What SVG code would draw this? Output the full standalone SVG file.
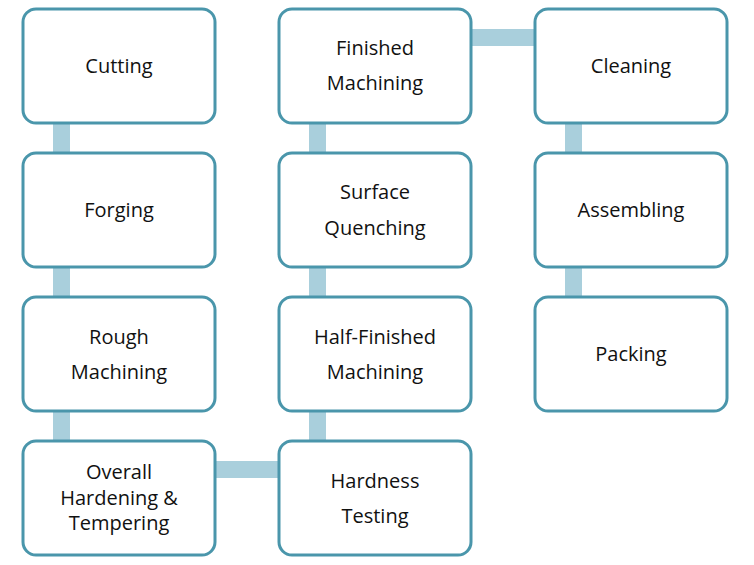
<svg xmlns="http://www.w3.org/2000/svg" width="754" height="565" viewBox="0 0 754 565">
<style>
.n rect{fill:#fff;stroke:#4a96ab;stroke-width:3}
.n text{font-family:"Open Sans","Liberation Sans",sans-serif;font-size:20px;fill:#111;text-anchor:middle}
.c{fill:#a9cfdc}
</style>
<rect width="754" height="565" fill="#fff"/>
<g id="connectors">
<rect class="c" x="53" y="120" width="17" height="36"/>
<rect class="c" x="53" y="264" width="17" height="36"/>
<rect class="c" x="53" y="408" width="17" height="36"/>
<rect class="c" x="212" y="461" width="70" height="17"/>
<rect class="c" x="309" y="408" width="17" height="36"/>
<rect class="c" x="309" y="264" width="17" height="36"/>
<rect class="c" x="309" y="120" width="17" height="36"/>
<rect class="c" x="468" y="29" width="70" height="17"/>
<rect class="c" x="565" y="120" width="17" height="36"/>
<rect class="c" x="565" y="264" width="17" height="36"/>
</g>
<g id="cutting" class="n"><rect x="23" y="9" width="192" height="114" rx="13"/><text x="119" y="73">Cutting</text></g>
<g id="forging" class="n"><rect x="23" y="153" width="192" height="114" rx="13"/><text x="119" y="217">Forging</text></g>
<g id="rough" class="n"><rect x="23" y="297" width="192" height="114" rx="13"/><text x="119" y="344">Rough</text><text x="119" y="379">Machining</text></g>
<g id="overall" class="n"><rect x="23" y="441" width="192" height="114" rx="13"/><text x="119" y="479">Overall</text><text x="119" y="505">Hardening &amp;</text><text x="119" y="530">Tempering</text></g>
<g id="hardness" class="n"><rect x="279" y="441" width="192" height="114" rx="13"/><text x="375" y="488">Hardness</text><text x="375" y="523">Testing</text></g>
<g id="half" class="n"><rect x="279" y="297" width="192" height="114" rx="13"/><text x="375" y="344">Half-Finished</text><text x="375" y="379">Machining</text></g>
<g id="surface" class="n"><rect x="279" y="153" width="192" height="114" rx="13"/><text x="375" y="199">Surface</text><text x="375" y="235">Quenching</text></g>
<g id="finished" class="n"><rect x="279" y="9" width="192" height="114" rx="13"/><text x="375" y="55">Finished</text><text x="375" y="90">Machining</text></g>
<g id="cleaning" class="n"><rect x="535" y="9" width="192" height="114" rx="13"/><text x="631" y="73">Cleaning</text></g>
<g id="assembling" class="n"><rect x="535" y="153" width="192" height="114" rx="13"/><text x="631" y="217">Assembling</text></g>
<g id="packing" class="n"><rect x="535" y="297" width="192" height="114" rx="13"/><text x="631" y="361">Packing</text></g>
</svg>
